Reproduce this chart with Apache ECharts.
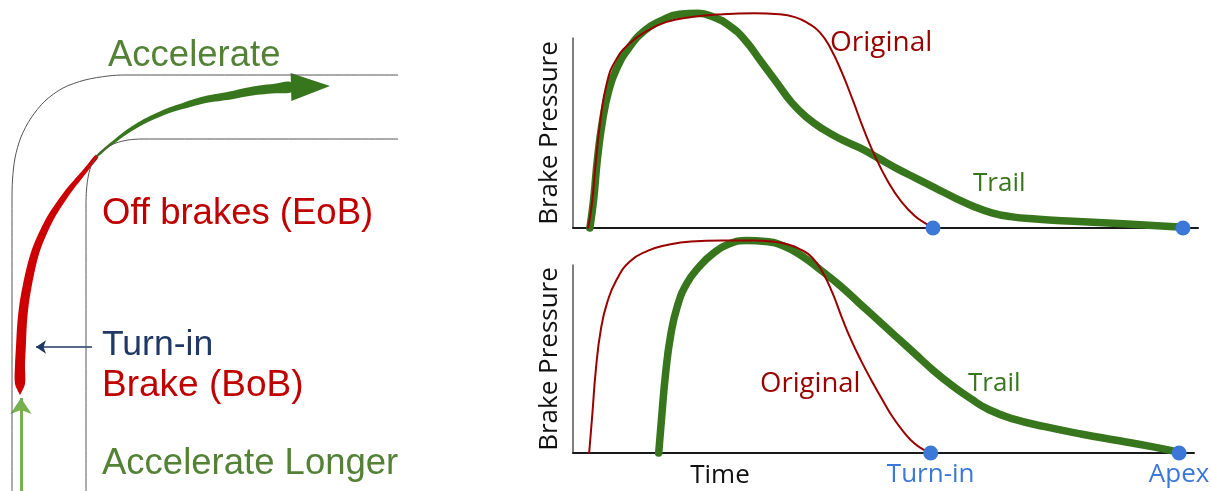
<!DOCTYPE html>
<html>
<head>
<meta charset="utf-8">
<script src="https://cdn.jsdelivr.net/npm/echarts@6/dist/echarts.min.js"></script>
<style>html,body{margin:0;padding:0;background:#fff}#c{width:1211px;height:491px}</style>
</head>
<body>
<div id="c"></div>
<script>
// ---------- Right charts: brake pressure vs time (time units 0..100, pressure 0..1 = axis height) ----------
const topOriginal = [[2.4,0],[3.0,0.12],[3.6,0.33],[4.4,0.57],[5.4,0.76],[6.8,0.88],[9,0.97],[12,1.04],[15,1.085],[19,1.11],[24,1.125],[29,1.13],[33,1.125],[35.5,1.11],[37.5,1.08],[39.5,1.03],[41.3,0.94],[43,0.82],[44.8,0.67],[46.5,0.52],[48.3,0.38],[50.3,0.25],[52.5,0.14],[54.8,0.06],[56.6,0.02],[57.6,0]];
const topTrail = [[2.7,0],[3.3,0.15],[3.9,0.36],[4.7,0.56],[5.7,0.72],[7,0.84],[9,0.95],[11.5,1.04],[14,1.09],[17,1.125],[20,1.13],[22.5,1.11],[25,1.065],[27.5,0.99],[30,0.88],[32.5,0.77],[35,0.66],[37.5,0.58],[40,0.52],[43,0.465],[46,0.42],[49,0.365],[52,0.31],[55,0.26],[58,0.21],[61,0.16],[64,0.115],[67,0.08],[70,0.06],[74,0.047],[80,0.035],[88,0.022],[97.6,0.004]];
const botOriginal = [[2.6,0],[3.1,0.2],[3.7,0.45],[4.5,0.66],[5.5,0.8],[7,0.92],[9.2,1.02],[12,1.075],[15,1.105],[19,1.125],[24,1.13],[29,1.13],[32,1.125],[34.5,1.11],[36.5,1.085],[38.5,1.04],[40.3,0.955],[41.8,0.85],[43.3,0.72],[44.8,0.6],[46.4,0.49],[48,0.39],[49.7,0.29],[51.5,0.19],[53.3,0.11],[55,0.05],[56.6,0.015],[57.6,0]];
const botTrail = [[13.8,0],[14.3,0.2],[14.9,0.42],[15.7,0.62],[16.8,0.78],[18.3,0.9],[20.3,0.99],[22.5,1.06],[25,1.11],[28,1.13],[31,1.125],[34,1.1],[37,1.045],[40,0.97],[43,0.89],[46,0.8],[49,0.71],[52,0.62],[55,0.53],[58,0.44],[61,0.36],[64,0.29],[67,0.23],[71,0.18],[76,0.14],[82,0.1],[88,0.065],[93,0.035],[97.6,0.004]];
const markerPoints = [[57.6,0],[97.6,0]];
const markerLabels = ['Turn-in','Apex'];
const seriesNames = ['Original','Trail'];
const axisTitle = 'Brake Pressure';
const timeTitle = 'Time';

// ---------- Left diagram: track sketch (pixel-like units 0..420 x 0..491, y downward) ----------
const trackOuter = [[12,491],[12,200],[12.5,180],[15,158],[21,137],[31,118],[45,101],[63,88],[85,80],[108,76],[125,75],[398,75]];
const trackInner = [[86,491],[86,205],[86.5,190],[88.5,175],[92,164],[98,155],[106,148],[116,143],[128,140],[142,139],[398,139]];
const brakePath = [[20,395],[20,384],[20,365],[21,345],[22,325],[24,305],[27,287],[31,268],[36,250],[43,233],[51,217],[60,203],[70,189],[80,177],[89,166],[97,156]];
const accelPath = [[97,156],[106,148],[115,141],[124,134],[133,128],[145,121],[158,115],[170,110],[183,106],[196,102],[208,99],[221,97],[233,95],[247,92],[260,90],[275,88.5],[291,87]];
const accelArrowTip = [330,86];
const accelLongerArrow = [[21,491],[21,398]];
const turnInArrow = [[92,347],[36,347]];
const leftLabels = ['Accelerate','Off brakes (EoB)','Turn-in','Brake (BoB)','Accelerate Longer'];

const chart = echarts.init(document.getElementById('c'), null, {renderer:'canvas'});

function taperRender(points, w0, w1, power, color, tip, arrowTip, headHalf) {
  return function(params, api) {
    if (params.dataIndex !== 0) return;
    const p = points.map(q => api.coord(q));
    const n = p.length;
    const L = [], R = [];
    for (let i = 0; i < n; i++) {
      const a = p[Math.max(0, i-1)], b = p[Math.min(n-1, i+1)];
      let dx = b[0]-a[0], dy = b[1]-a[1];
      const len = Math.hypot(dx, dy) || 1; dx/=len; dy/=len;
      let w;
      if (tip && i === 0) w = 0;
      else { const t = tip ? (i-1)/(n-2) : i/(n-1); w = w0 + (w1-w0)*Math.pow(t, power); }
      L.push([p[i][0] - dy*w/2, p[i][1] + dx*w/2]);
      R.push([p[i][0] + dy*w/2, p[i][1] - dx*w/2]);
    }
    const children = [{type:'polygon', shape:{points: L.concat(R.reverse()), smooth:0.3}, style:{fill: color}}];
    if (arrowTip) {
      const e = p[n-1], tp = api.coord(arrowTip);
      let dx = tp[0]-e[0], dy = tp[1]-e[1];
      const len = Math.hypot(dx,dy); dx/=len; dy/=len;
      children.push({type:'polygon', shape:{points:[[e[0]-dy*headHalf, e[1]+dx*headHalf],[tp[0],tp[1]],[e[0]+dy*headHalf, e[1]-dx*headHalf]]}, style:{fill: color}});
    }
    return {type:'group', children};
  };
}

const RED = '#990000', GREEN = '#38761d', BLUE = '#3c78d8';
const rightFont = '"Open Sans", "Noto Sans", sans-serif';
const leftFont = '"Liberation Sans", Arial, sans-serif';

function chartAxes(gi) {
  return {
    x: {type:'value', gridIndex: gi, min:0, max:100, axisLine:{show:true, lineStyle:{color:'#1a1a1a', width:2}}, axisTick:{show:false}, axisLabel:{show:false}, splitLine:{show:false}},
    y: {type:'value', gridIndex: gi, min:0, max:1, axisLine:{show:true, lineStyle:{color:'#555', width:1.5}}, axisTick:{show:false}, axisLabel:{show:false}, splitLine:{show:false},
        name: axisTitle, nameLocation:'middle', nameRotate:90, nameGap:10, nameTextStyle:{fontFamily: rightFont, fontSize:26, color:'#111'}}
  };
}
const a0 = chartAxes(0), a1 = chartAxes(1);

function lineSeries(data, gi, color, width, z) {
  return {type:'line', xAxisIndex: gi, yAxisIndex: gi, data, smooth:0.5, showSymbol:false, clip:false, z,
          lineStyle:{color, width, cap:'round', join:'round'}, silent:true};
}

const option = {
  animation:false,
  backgroundColor:'#fff',
  grid:[
    {left:573, right:13, top:38, height:190},
    {left:573, width:621, top:265, height:188},
    {left:0, top:0, width:420, height:491}
  ],
  xAxis:[a0.x, a1.x, {type:'value', gridIndex:2, min:0, max:420, show:false}],
  yAxis:[a0.y, a1.y, {type:'value', gridIndex:2, min:0, max:491, inverse:true, show:false}],
  series:[
    lineSeries(topTrail, 0, GREEN, 7.5, 3),
    lineSeries(topOriginal, 0, RED, 2, 4),
    lineSeries(botTrail, 1, GREEN, 7.5, 3),
    lineSeries(botOriginal, 1, RED, 2, 4),
    {type:'scatter', xAxisIndex:0, yAxisIndex:0, data: markerPoints, symbolSize:15, clip:false, z:5, itemStyle:{color:BLUE, opacity:1}},
    {type:'scatter', xAxisIndex:1, yAxisIndex:1, data: markerPoints.map((p,i)=>({value:p, label:{formatter: markerLabels[i]}})), symbolSize:15, clip:false, z:5, itemStyle:{color:BLUE, opacity:1},
     label:{show:true, position:'bottom', distance:1, fontFamily:rightFont, fontSize:26, color:BLUE, opacity:1}},
    // left diagram
    {type:'line', xAxisIndex:2, yAxisIndex:2, data: trackOuter, smooth:0.3, showSymbol:false, lineStyle:{color:'#555', width:1}, silent:true},
    {type:'line', xAxisIndex:2, yAxisIndex:2, data: trackInner, smooth:0.3, showSymbol:false, lineStyle:{color:'#555', width:1}, silent:true},
    {type:'custom', xAxisIndex:2, yAxisIndex:2, data: brakePath, renderItem: taperRender(brakePath, 10, 3.5, 1.8, '#cc0000', true), z:3, silent:true},
    {type:'custom', xAxisIndex:2, yAxisIndex:2, data: accelPath, renderItem: taperRender(accelPath, 2, 10, 1, GREEN, false, accelArrowTip, 14), z:3, silent:true},
    {type:'lines', coordinateSystem:'cartesian2d', xAxisIndex:2, yAxisIndex:2, data:[{coords: accelLongerArrow}], symbol:['none','arrow'], symbolSize:[14,16], lineStyle:{color:'#76b04f', width:3, opacity:1}, silent:true},
    {type:'lines', coordinateSystem:'cartesian2d', xAxisIndex:2, yAxisIndex:2, data:[{coords: turnInArrow}], symbol:['none','arrow'], symbolSize:[8,10], lineStyle:{color:'#1f3864', width:1.5, opacity:1}, silent:true}
  ],
  graphic:[
    {type:'text', x:108, y:56, style:{text:leftLabels[0], font:'36.5px '+leftFont, fill:'#538135', verticalAlign:'middle'}},
    {type:'text', x:102, y:214, style:{text:leftLabels[1], font:'36.5px '+leftFont, fill:'#c00000', verticalAlign:'middle'}},
    {type:'text', x:102, y:345, style:{text:leftLabels[2], font:'35.5px '+leftFont, fill:'#1f3864', verticalAlign:'middle'}},
    {type:'text', x:102, y:386, style:{text:leftLabels[3], font:'37px '+leftFont, fill:'#c00000', verticalAlign:'middle'}},
    {type:'text', x:102, y:464, style:{text:leftLabels[4], font:'36.5px '+leftFont, fill:'#538135', verticalAlign:'middle'}},
    {type:'text', x:830, y:43, style:{text:seriesNames[0], font:'28px '+rightFont, fill:RED, verticalAlign:'middle'}},
    {type:'text', x:973, y:184, style:{text:seriesNames[1], font:'26px '+rightFont, fill:GREEN, verticalAlign:'middle'}},
    {type:'text', x:760, y:384, style:{text:seriesNames[0], font:'27.5px '+rightFont, fill:RED, verticalAlign:'middle'}},
    {type:'text', x:968, y:384, style:{text:seriesNames[1], font:'26px '+rightFont, fill:GREEN, verticalAlign:'middle'}},
    {type:'text', x:720, y:476, style:{text:timeTitle, font:'26px '+rightFont, fill:'#111', align:'center', verticalAlign:'middle'}}
  ]
};
chart.setOption(option);
</script>
</body>
</html>
